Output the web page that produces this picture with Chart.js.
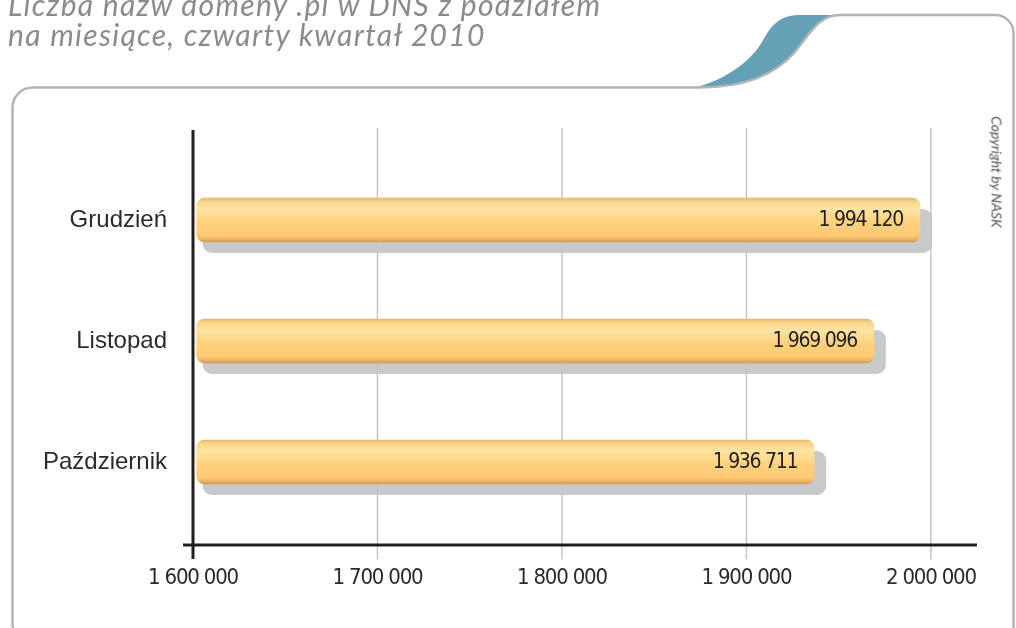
<!DOCTYPE html>
<html><head><meta charset="utf-8">
<script src="https://cdn.jsdelivr.net/npm/chart.js@4.4.1/dist/chart.umd.min.js"></script>
<style>
html,body{margin:0;padding:0;background:#fff;overflow:hidden;}
#wrap{position:relative;width:1016px;height:628px;overflow:hidden;background:#fff;}
#c{position:absolute;left:0;top:0;}
#title{position:absolute;left:8px;top:-11.5px;font-family:Lato,'Open Sans',sans-serif;font-style:italic;font-size:30px;letter-spacing:1.3px;line-height:30px;color:#8b8b8f;white-space:nowrap;}
#copy{position:absolute;left:997px;top:172px;transform:translate(-50%,-50%) rotate(90deg);font-family:Lato,'Open Sans',sans-serif;font-style:italic;font-size:14px;color:#505050;white-space:nowrap;}
</style></head>
<body><div id="wrap">
<canvas id="c" width="1016" height="628"></canvas>
<div id="title">Liczba nazw domeny .pl w DNS z podziałem<br>na miesiące, czwarty kwartał 2010</div>
<div id="copy">Copyright by NASK</div>
</div>
<script>
const categories = ['Grudzień', 'Listopad', 'Październik'];
const values = [1994120, 1969096, 1936711];
const tickValues = [1600000, 1700000, 1800000, 1900000, 2000000];
const axisMin = 1600000;
const axisMax = 2025000;

const NARROW = "'DejaVu Sans Condensed', 'Liberation Sans Narrow', sans-serif";
const REGULAR = "'Liberation Sans', Arial, sans-serif";
const BAR_T = 44;

function fmt(v) { return String(v).replace(/\B(?=(\d{3})+(?!\d))/g, ' '); }

function barGradient(c) {
  const chart = c.chart, ys = chart.scales.y;
  if (!chart.chartArea || !ys) return '#fdd07c';
  const mid = ys.getPixelForValue(c.dataIndex);
  const g = chart.ctx.createLinearGradient(0, mid - BAR_T / 2, 0, mid + BAR_T / 2);
  g.addColorStop(0, '#e8b466');
  g.addColorStop(0.07, '#f8d389');
  g.addColorStop(0.25, '#fee4a2');
  g.addColorStop(0.55, '#fdd17d');
  g.addColorStop(0.86, '#fcca72');
  g.addColorStop(0.95, '#e6b060');
  g.addColorStop(1, '#cf9a55');
  return g;
}

const decor = {
  id: 'decor',
  beforeDraw(chart) {
    const ctx = chart.ctx;
    ctx.save();
    ctx.beginPath();
    ctx.moveTo(695, 87.5);
    ctx.bezierCurveTo(725, 80, 750, 62, 762, 42);
    ctx.bezierCurveTo(772, 24, 780, 15, 800, 15);
    ctx.lineTo(840, 15);
    ctx.bezierCurveTo(820, 15, 812, 30, 795, 52);
    ctx.bezierCurveTo(775, 75, 745, 87.5, 700, 87.5);
    ctx.closePath();
    ctx.fillStyle = '#64a0b6';
    ctx.fill();
    ctx.beginPath();
    ctx.moveTo(40, 645);
    ctx.arcTo(12.5, 645, 12.5, 600, 22);
    ctx.lineTo(12.5, 107);
    ctx.arcTo(12.5, 87.5, 40, 87.5, 20);
    ctx.lineTo(700, 87.5);
    ctx.bezierCurveTo(745, 87.5, 775, 75, 795, 52);
    ctx.bezierCurveTo(812, 30, 820, 15, 840, 15);
    ctx.lineTo(995, 15);
    ctx.arcTo(1013.5, 15, 1013.5, 40, 18);
    ctx.lineTo(1013.5, 650);
    ctx.strokeStyle = '#b3b4b7';
    ctx.lineWidth = 2.5;
    ctx.stroke();
    ctx.restore();
  },
  beforeDatasetsDraw(chart) {
    const ctx = chart.ctx, xs = chart.scales.x, area = chart.chartArea;
    const meta = chart.getDatasetMeta(0);
    ctx.save();
    ctx.fillStyle = '#c8c9cb';
    meta.data.forEach(b => {
      const p = b.getProps(['x', 'y', 'base', 'height'], true);
      ctx.beginPath();
      ctx.roundRect(p.base + 6, p.y - p.height / 2 + 11, p.x - p.base + 6, p.height, 9);
      ctx.fill();
    });
    ctx.strokeStyle = '#c4c4c4';
    ctx.lineWidth = 1.5;
    tickValues.forEach(v => {
      if (v === axisMin) return;
      const x = xs.getPixelForValue(v);
      ctx.beginPath();
      ctx.moveTo(x, area.top - 31.5);
      ctx.lineTo(x, area.bottom + 37);
      ctx.stroke();
    });
    ctx.restore();
  },
  afterDatasetsDraw(chart) {
    const ctx = chart.ctx, xs = chart.scales.x, area = chart.chartArea;
    const meta = chart.getDatasetMeta(0);
    ctx.save();
    ctx.fillStyle = '#231f20';
    ctx.font = '21px ' + NARROW;
    if ('letterSpacing' in ctx) ctx.letterSpacing = '-1.3px';
    ctx.textAlign = 'right';
    ctx.textBaseline = 'middle';
    meta.data.forEach((b, i) => {
      ctx.fillText(fmt(values[i]), b.x - 17, b.y + 1);
    });
    ctx.restore();
    ctx.save();
    ctx.strokeStyle = '#231f20';
    ctx.lineWidth = 3;
    const x0 = xs.getPixelForValue(axisMin);
    ctx.beginPath();
    ctx.moveTo(x0, area.top - 29.5);
    ctx.lineTo(x0, area.bottom + 36.5);
    ctx.stroke();
    ctx.beginPath();
    ctx.moveTo(x0 - 10, area.bottom + 22.5);
    ctx.lineTo(area.right, area.bottom + 22.5);
    ctx.stroke();
    ctx.restore();
    // condensed spacing for the x tick labels, drawn after this hook (ticks z = 1)
    if ('letterSpacing' in ctx) ctx.letterSpacing = '-1.2px';
  },
  afterDraw(chart) {
    if ('letterSpacing' in chart.ctx) chart.ctx.letterSpacing = '0px';
  }
};

new Chart(document.getElementById('c'), {
  type: 'bar',
  data: {
    labels: categories,
    datasets: [{
      data: values,
      base: 1602000,
      backgroundColor: barGradient,
      borderWidth: 0,
      borderRadius: 8,
      borderSkipped: false,
      barThickness: BAR_T
    }]
  },
  options: {
    indexAxis: 'y',
    responsive: false,
    animation: false,
    devicePixelRatio: 1,
    layout: { padding: { left: 0, top: 159.5, right: 39, bottom: 35.5 } },
    plugins: { legend: { display: false }, tooltip: { enabled: false }, title: { display: false } },
    scales: {
      x: {
        type: 'linear',
        min: axisMin,
        max: axisMax,
        grid: { display: false, drawTicks: false },
        border: { display: false },
        afterBuildTicks(s) { s.ticks = tickValues.map(v => ({ value: v })); },
        afterFit(s) { s.height = 70; s.paddingLeft = 0; s.paddingRight = 0; },
        ticks: { z: 1, padding: 43, color: '#2b2b2b', font: { family: NARROW, size: 22 }, callback: v => fmt(v), maxRotation: 0, autoSkip: false }
      },
      y: {
        grid: { display: false, drawTicks: false },
        border: { display: false },
        afterFit(s) { s.width = 193; s.paddingTop = 0; s.paddingBottom = 0; },
        ticks: { padding: 26, color: '#2b2b2b', font: { family: REGULAR, size: 24 } }
      }
    }
  },
  plugins: [decor]
});
</script>
</body></html>
